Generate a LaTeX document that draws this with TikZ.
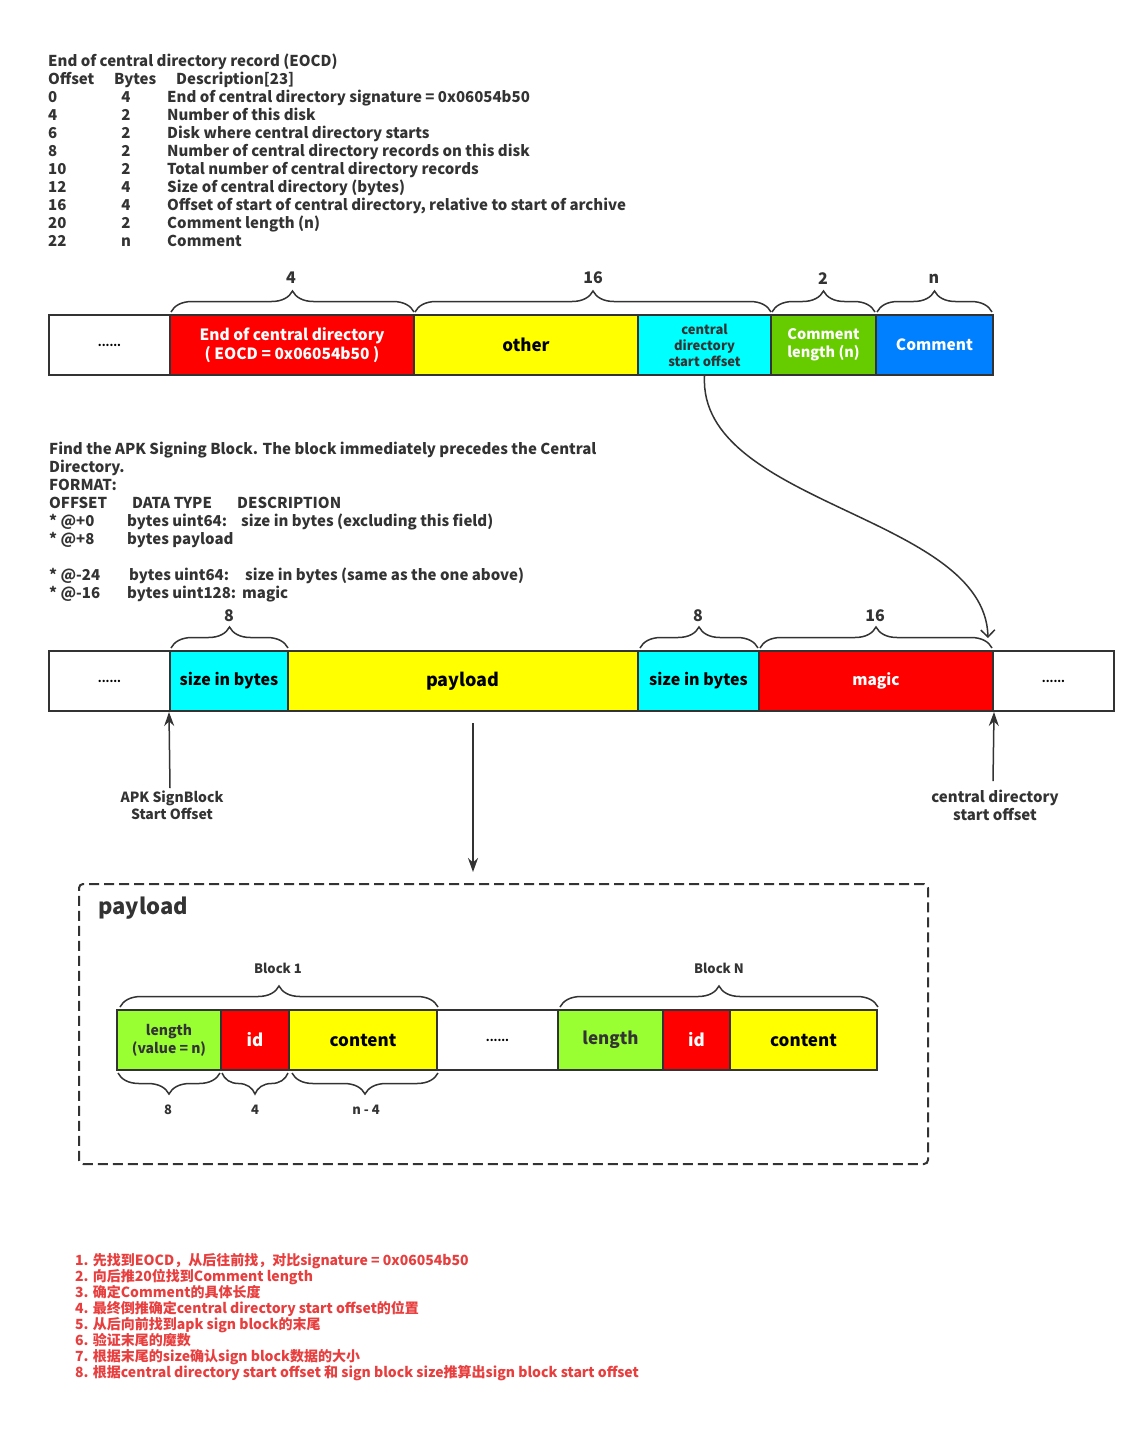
\documentclass[tikz,border=0pt]{standalone}
\usepackage{fontspec}
\setmainfont{Noto Sans CJK SC}
\usetikzlibrary{decorations.pathreplacing,arrows.meta}
\definecolor{ink}{HTML}{333333}
\definecolor{cellred}{HTML}{FF0000}
\definecolor{cellyellow}{HTML}{FFFF00}
\definecolor{cellcyan}{HTML}{00FFFF}
\definecolor{cellgreen}{HTML}{66CC00}
\definecolor{cellblue}{HTML}{007FFF}
\definecolor{celllime}{HTML}{99FF33}
\definecolor{noteRed}{HTML}{E83E3E}
\newcommand{\fs}[1]{\fontsize{#1}{#1}\selectfont}
\newcommand{\fsl}[2]{\fontsize{#1}{#2}\selectfont}
\tikzset{
  bar/.style={draw=ink, line width=2pt, minimum height=60pt, inner sep=0pt, align=center, font=\bfseries\fs{15.5}},
  brc/.style={draw=ink, line width=1.5pt, decorate, decoration={brace, amplitude=21pt, raise=2pt}},
  lbl/.style={inner sep=0pt, text=ink, font=\bfseries\fs{16}},
  small/.style={inner sep=0pt, text=ink, font=\bfseries\fs{13}},
  txt/.style={anchor=base west, inner sep=0pt, text=ink, font=\bfseries\fs{15}},
  note/.style={anchor=base west, inner sep=0pt, text=noteRed, font=\bfseries\fs{14}},
  arr/.style={draw=ink, line width=1.5pt, -{Stealth[length=14pt,width=10pt]}},
}
\begin{document}
\begin{tikzpicture}[x=1pt,y=-1pt]
\useasboundingbox (0,0) rectangle (1146,1446);
\fill[white] (0,0) rectangle (1146,1446);

% ---- EOCD table ----
\node[txt] (eocdtitle) at (48,66) {End of central directory record (EOCD)};
\node[txt] (hoff) at (48,84) {Offset};
\node[txt] (hbytes) at (114,84) {Bytes};
\node[txt] (hdesc) at (176,84) {Description[23]};
\foreach \i/\o/\b/\d [count=\k] in {
  102/0/4/{End of central directory signature = 0x06054b50},
  120/4/2/{Number of this disk},
  138/6/2/{Disk where central directory starts},
  156/8/2/{Number of central directory records on this disk},
  174/10/2/{Total number of central directory records},
  192/12/4/{Size of central directory (bytes)},
  210/16/4/{Offset of start of central directory, relative to start of archive},
  228/20/2/{Comment length (n)},
  246/22/n/{Comment}}{
  \node[txt] (roff\k) at (48,\i) {\o};
  \node[txt, anchor=base] (rbyte\k) at (126,\i) {\b};
  \node[txt] (rdesc\k) at (167,\i) {\d};
}

% ---- EOCD bar ----
\node[bar, minimum width=121pt, font=\bfseries\fs{11}] (dotsA) at (109.5,345) {......};
\node[bar, minimum width=244pt, fill=cellred, text=white, font=\bfseries\fsl{15.5}{19}] (eocd) at (292,345) {End of central directory\\( EOCD = 0x06054b50 )};
\node[bar, minimum width=224pt, fill=cellyellow, text=black, font=\bfseries\fs{17}] (other) at (526,345) {other};
\node[bar, minimum width=133pt, fill=cellcyan, text=ink, font=\bfseries\fsl{13}{16}] (cdso) at (704.5,345) {central\\directory\\start offset};
\node[bar, minimum width=105pt, fill=cellgreen, text=white, font=\bfseries\fsl{14.5}{18}] (clen) at (823.5,345) {Comment\\length (n)};
\node[bar, minimum width=117pt, fill=cellblue, text=white] (comm) at (934.5,345) {Comment};

\draw[brc] ([xshift=2pt]eocd.north west) -- ([xshift=-1pt]eocd.north east);
\draw[brc] ([xshift=2pt]other.north west) -- ([xshift=-1pt]cdso.north east);
\draw[brc] ([xshift=2pt]clen.north west) -- ([xshift=-2pt]clen.north east);
\draw[brc] ([xshift=2pt]comm.north west) -- ([xshift=-2pt]comm.north east);
\node[lbl] (n4) at (291,278) {4};
\node[lbl] (n16) at (593,278) {16};
\node[lbl] (n2) at (823,279) {2};
\node[lbl] (nn) at (934,279) {n};

% ---- APK signing block description ----
\node[txt] (f1) at (49,454) {Find the APK Signing Block. The block immediately precedes the Central};
\node[txt] (f2) at (49,472) {Directory.};
\node[txt] (f3) at (49,490) {FORMAT:};
\node[txt] (f4a) at (49,508) {OFFSET};
\node[txt] (f4b) at (132,508) {DATA TYPE};
\node[txt] (f4c) at (237,508) {DESCRIPTION};
\node[txt] (f5a) at (49,526) {* @+0};
\node[txt] (f5b) at (127,526) {bytes uint64:};
\node[txt] (f5c) at (241,526) {size in bytes (excluding this field)};
\node[txt] (f6a) at (49,544) {* @+8};
\node[txt] (f6b) at (127,544) {bytes payload};
\node[txt] (f7a) at (49,580) {* @-24};
\node[txt] (f7b) at (129,580) {bytes uint64:};
\node[txt] (f7c) at (245,580) {size in bytes (same as the one above)};
\node[txt] (f8a) at (49,598) {* @-16};
\node[txt] (f8b) at (127,598) {bytes uint128:};
\node[txt] (f8c) at (242,598) {magic};

% ---- signing block bar ----
\node[bar, minimum width=121pt, font=\bfseries\fs{11}] (dotsB) at (109.5,681) {......};
\node[bar, minimum width=118pt, fill=cellcyan, text=black, font=\bfseries\fs{16}] (sizeA) at (229,681) {size in bytes};
\node[bar, minimum width=350pt, fill=cellyellow, text=black, font=\bfseries\fs{18}] (pay) at (463,681) {payload};
\node[bar, minimum width=121pt, fill=cellcyan, text=black, font=\bfseries\fs{16}] (sizeB) at (698.5,681) {size in bytes};
\node[bar, minimum width=234pt, fill=cellred, text=white] (magic) at (876,681) {magic};
\node[bar, minimum width=121pt, font=\bfseries\fs{11}] (dotsC) at (1053.5,681) {......};

\draw[brc] ([xshift=2pt]sizeA.north west) -- ([xshift=-1pt]sizeA.north east);
\draw[brc] ([xshift=3pt]sizeB.north west) -- ([xshift=-2pt]sizeB.north east);
\draw[brc] ([xshift=2pt]magic.north west) -- ([xshift=-2pt]magic.north east);
\node[lbl] (s8a) at (229,616) {8};
\node[lbl] (s8b) at (698,616) {8};
\node[lbl] (s16) at (875,616) {16};

% curved arrow from the central directory offset field
\coordinate (cdtip) at (988,638);
\draw[draw=ink, line width=1.5pt, -{Straight Barb[length=7pt,width=14pt]}]
  (cdso.south) .. controls (698,505) and (985,515) .. (cdtip);

% offset markers
\node[inner sep=0pt, align=center, text=ink, font=\bfseries\fsl{14}{17}] (apkso) at (172,805) {APK SignBlock\\Start Offset};
\node[inner sep=0pt, align=center, text=ink, font=\bfseries\fsl{15}{18}] (cdsol) at (995,805) {central directory\\start offset};
\draw[arr] (170,788) -- (sizeA.south west);
\draw[arr] (993,781) -- (magic.south east);

% payload detail
\coordinate (payfrom) at (473,723);
\coordinate (payto) at (473,872);
\node[draw=ink, line width=2pt, dash pattern=on 10pt off 5pt, rounded corners=4pt, minimum width=849pt, minimum height=280pt, inner sep=0pt] (paybox) at (503.5,1024) {};
\draw[arr] (payfrom) -- (payto);
\node[anchor=base west, inner sep=0pt, text=ink, font=\bfseries\fs{22}] (paytitle) at (98,914) {payload};

\node[bar, minimum width=104pt, fill=celllime, text=ink, font=\bfseries\fsl{14}{18}] (lenA) at (169,1040) {length\\(value = n)};
\node[bar, minimum width=68pt, fill=cellred, text=white, font=\bfseries\fs{17}] (idA) at (255,1040) {id};
\node[bar, minimum width=148pt, fill=cellyellow, text=black, font=\bfseries\fs{17}] (conA) at (363,1040) {content};
\node[bar, minimum width=121pt, font=\bfseries\fs{11}] (dotsD) at (497.5,1040) {......};
\node[bar, minimum width=105pt, fill=celllime, text=ink, font=\bfseries\fs{17}] (lenN) at (610.5,1040) {length};
\node[bar, minimum width=67pt, fill=cellred, text=white, font=\bfseries\fs{17}] (idN) at (696.5,1040) {id};
\node[bar, minimum width=147pt, fill=cellyellow, text=black, font=\bfseries\fs{17}] (conN) at (803.5,1040) {content};

\draw[brc] ([xshift=4pt]lenA.north west) -- ([xshift=0pt]conA.north east);
\draw[brc] ([xshift=3pt]lenN.north west) -- ([xshift=0pt]conN.north east);
\node[small] (b1) at (278,968) {Block 1};
\node[small] (bN) at (719,968) {Block N};

\draw[brc] ([xshift=-2pt]lenA.south east) -- ([xshift=2pt]lenA.south west);
\draw[brc] ([xshift=-2pt]idA.south east) -- ([xshift=2pt]idA.south west);
\draw[brc] ([xshift=0pt]conA.south east) -- ([xshift=4pt]conA.south west);
\node[small] (l8) at (168,1110) {8};
\node[small] (l4) at (255,1110) {4};
\node[small] (ln4) at (366,1110) {n - 4};

% ---- steps ----
\node[note] (st1) at (75,1265) {1. 先找到EOCD，从后往前找，对比signature = 0x06054b50};
\node[note] (st2) at (75,1281) {2. 向后推20位找到Comment length};
\node[note] (st3) at (75,1297) {3. 确定Comment的具体长度};
\node[note] (st4) at (75,1313) {4. 最终倒推确定central directory start offset的位置};
\node[note] (st5) at (75,1329) {5. 从后向前找到apk sign block的末尾};
\node[note] (st6) at (75,1345) {6. 验证末尾的魔数};
\node[note] (st7) at (75,1361) {7. 根据末尾的size确认sign block数据的大小};
\node[note] (st8) at (75,1377) {8. 根据central directory start offset 和 sign block size推算出sign block start offset};
\end{tikzpicture}
\end{document}
